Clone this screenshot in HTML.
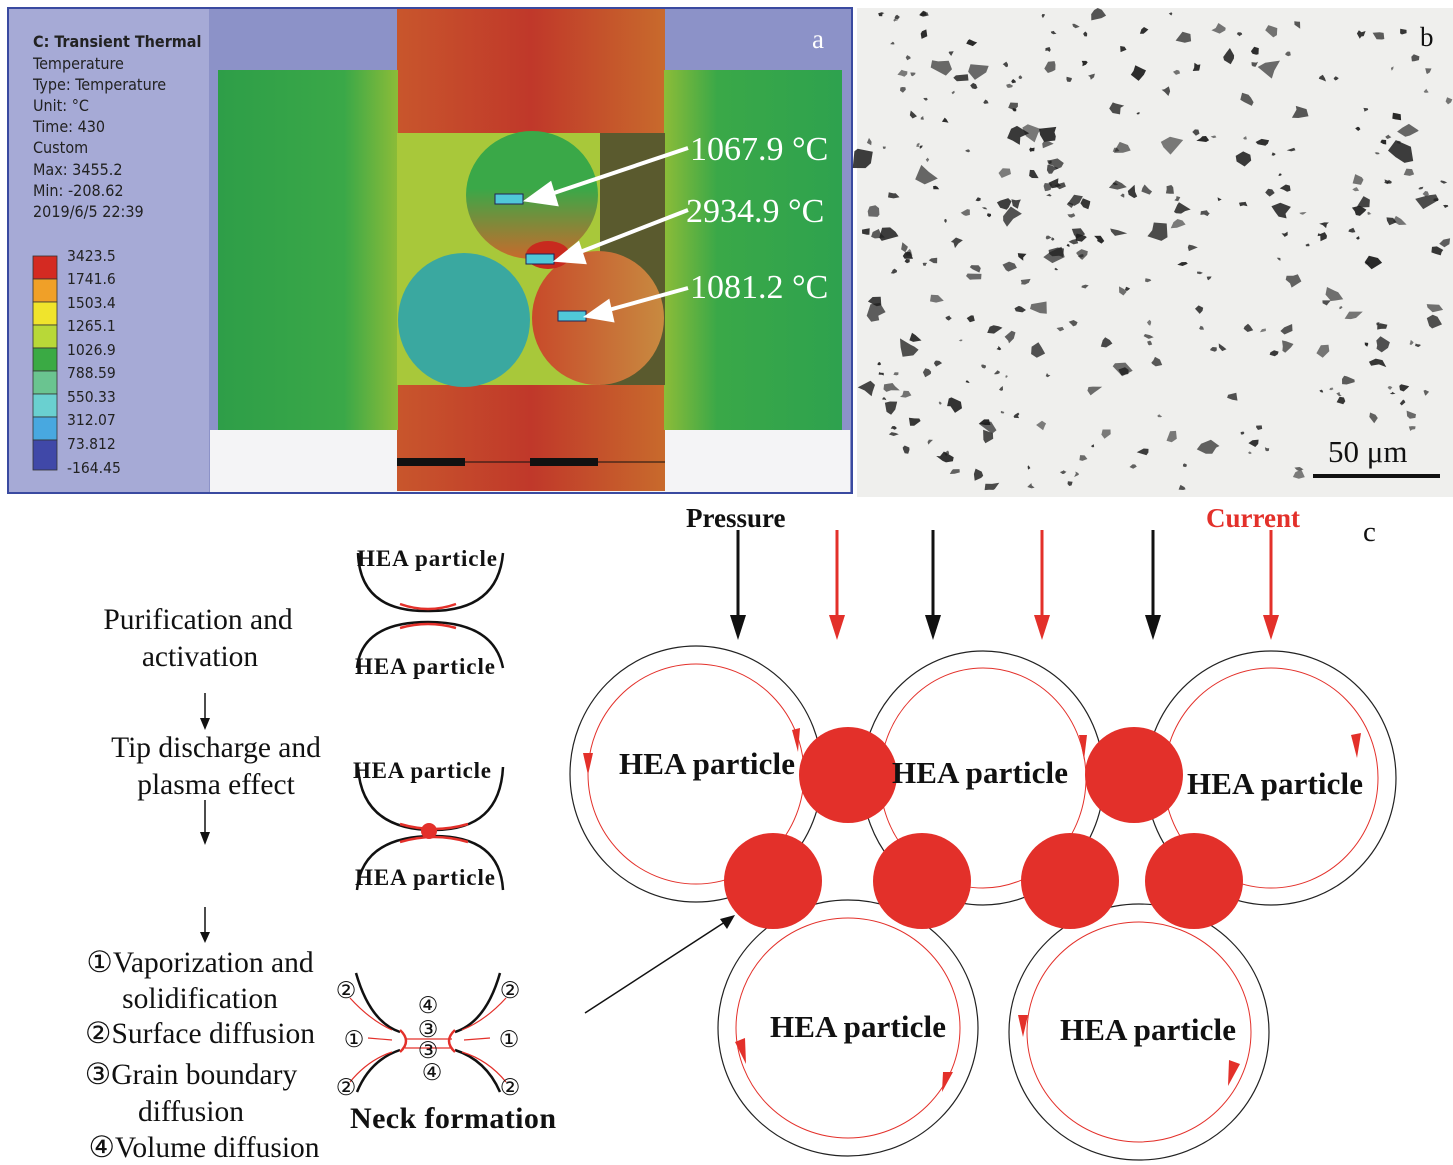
<!DOCTYPE html>
<html><head><meta charset="utf-8"><style>
body{margin:0;width:1453px;height:1165px;background:#fff;overflow:hidden;position:relative;font-family:"Liberation Serif",serif}
svg{position:absolute;left:0;top:0}
</style></head><body>
<svg width="1453" height="1165" viewBox="0 0 1453 1165" xmlns="http://www.w3.org/2000/svg">
<defs>
<linearGradient id="band" x1="0" x2="1"><stop offset="0" stop-color="#c8562c"/><stop offset="0.5" stop-color="#c0382a"/><stop offset="1" stop-color="#c86a2c"/></linearGradient>
<linearGradient id="gl" x1="0" x2="1"><stop offset="0" stop-color="#2e9e48"/><stop offset="0.7" stop-color="#3aa848"/><stop offset="1" stop-color="#8cbc38"/></linearGradient>
<linearGradient id="gr" x1="0" x2="1"><stop offset="0" stop-color="#8cbc38"/><stop offset="0.3" stop-color="#3aa848"/><stop offset="1" stop-color="#2ea24e"/></linearGradient>
<linearGradient id="c1" x1="0" x2="0" y1="0" y2="1"><stop offset="0.45" stop-color="#3aa848"/><stop offset="1" stop-color="#c86a2c"/></linearGradient>
<linearGradient id="c3" x1="0" x2="1"><stop offset="0" stop-color="#c84a2a"/><stop offset="1" stop-color="#c88a40"/></linearGradient>
</defs>
<!-- Panel a -->
<rect x="8" y="8" width="844" height="485" fill="#8c92c8" stroke="#3a4aa0" stroke-width="2"/>
<rect x="9" y="9" width="200" height="483" fill="#a6aad6"/>
<rect x="210" y="430" width="640" height="62" fill="#f4f4f6"/>
<rect x="397" y="9" width="268" height="482" fill="url(#band)"/>
<rect x="218" y="70" width="180" height="360" fill="url(#gl)"/>
<rect x="664" y="70" width="178" height="360" fill="url(#gr)"/>
<rect x="397" y="133" width="268" height="252" fill="#a8c83a"/>
<rect x="600" y="133" width="65" height="252" fill="#5a5a2e"/>
<ellipse cx="532" cy="195" rx="66" ry="64" fill="url(#c1)"/>
<ellipse cx="464" cy="320" rx="66" ry="67" fill="#3aa8a0"/>
<ellipse cx="598" cy="318" rx="66" ry="67" fill="url(#c3)"/>
<ellipse cx="548" cy="255" rx="22" ry="14" fill="#c82a1e"/>
<rect x="495" y="194" width="28" height="10" fill="#50c8d8" stroke="#225" stroke-width="1"/>
<rect x="526" y="254" width="28" height="10" fill="#50c8d8" stroke="#225" stroke-width="1"/>
<rect x="558" y="311" width="28" height="10" fill="#50c8d8" stroke="#225" stroke-width="1"/>
<g stroke="#fff" stroke-width="4" fill="#fff">
<line x1="688" y1="148" x2="545" y2="196"/><polygon points="528,200 550,184 556,204"/>
<line x1="688" y1="210" x2="575" y2="254"/><polygon points="558,260 578,244 584,262"/>
<line x1="688" y1="288" x2="605" y2="311"/><polygon points="588,316 608,302 612,320"/>
</g>
<g font-family="Liberation Serif,serif" fill="#fff" font-size="34">
<text x="690" y="160">1067.9 °C</text><text x="686" y="222">2934.9 °C</text><text x="690" y="298">1081.2 °C</text>
<text x="812" y="48" font-size="27">a</text></g>
<rect x="397" y="458" width="68" height="8" fill="#111"/><rect x="530" y="458" width="68" height="8" fill="#111"/>
<line x1="397" y1="462" x2="665" y2="462" stroke="#111" stroke-width="1"/>
<g font-family="DejaVu Sans Condensed,DejaVu Sans,sans-serif" font-size="16" fill="#222">
<text x="33" y="47" font-weight="bold">C: Transient Thermal</text>
<text x="33" y="69">Temperature</text><text x="33" y="90">Type: Temperature</text><text x="33" y="111">Unit: °C</text>
<text x="33" y="132">Time: 430</text><text x="33" y="153">Custom</text><text x="33" y="175">Max: 3455.2</text>
<text x="33" y="196">Min: -208.62</text><text x="33" y="217">2019/6/5 22:39</text>
<g font-size="15.5"><text x="67" y="261">3423.5</text><text x="67" y="284">1741.6</text><text x="67" y="308">1503.4</text><text x="67" y="331">1265.1</text><text x="67" y="355">1026.9</text><text x="67" y="378">788.59</text><text x="67" y="402">550.33</text><text x="67" y="425">312.07</text><text x="67" y="449">73.812</text><text x="67" y="473">-164.45</text></g>
</g>
<g stroke="#333" stroke-width="0.8">
<rect x="33" y="256" width="24" height="23" fill="#d42a22"/><rect x="33" y="279" width="24" height="23" fill="#f0a028"/><rect x="33" y="302" width="24" height="23" fill="#f0e42c"/><rect x="33" y="325" width="24" height="23" fill="#b8d838"/><rect x="33" y="348" width="24" height="23" fill="#3aaa44"/><rect x="33" y="371" width="24" height="23" fill="#6ac490"/><rect x="33" y="394" width="24" height="23" fill="#6ad0d0"/><rect x="33" y="417" width="24" height="23" fill="#48a8e0"/><rect x="33" y="440" width="24" height="30" fill="#4048a8"/>
</g>
<!-- Panel b -->
<rect x="857" y="8" width="596" height="489" fill="#efefed"/>
<g id="spk" fill="#1e1e1e"></g>
<text x="1420" y="46" font-size="27" fill="#111">b</text>
<text x="1328" y="462" font-size="31" fill="#111">50 μm</text>
<line x1="1313" y1="476" x2="1440" y2="476" stroke="#111" stroke-width="4"/>
<!-- Panel c -->
<g font-family="Liberation Serif,serif" font-weight="bold" font-size="27">
<text x="686" y="527" fill="#111">Pressure</text>
<text x="1206" y="527" fill="#e3302a">Current</text></g>
<text x="1363" y="541" font-size="29" fill="#111">c</text>
<g stroke-width="3">
<line x1="738" y1="530" x2="738" y2="618" stroke="#111"/><polygon points="730,615 746,615 738,640" fill="#111"/>
<line x1="837" y1="530" x2="837" y2="618" stroke="#e3302a"/><polygon points="829,615 845,615 837,640" fill="#e3302a"/>
<line x1="933" y1="530" x2="933" y2="618" stroke="#111"/><polygon points="925,615 941,615 933,640" fill="#111"/>
<line x1="1042" y1="530" x2="1042" y2="618" stroke="#e3302a"/><polygon points="1034,615 1050,615 1042,640" fill="#e3302a"/>
<line x1="1153" y1="530" x2="1153" y2="618" stroke="#111"/><polygon points="1145,615 1161,615 1153,640" fill="#111"/>
<line x1="1271" y1="530" x2="1271" y2="618" stroke="#e3302a"/><polygon points="1263,615 1279,615 1271,640" fill="#e3302a"/>
</g>
<g fill="none" stroke="#222" stroke-width="1.2">
<ellipse cx="696" cy="774" rx="126" ry="128"/><ellipse cx="983" cy="778" rx="121" ry="127"/><ellipse cx="1271" cy="778" rx="125" ry="127"/>
<ellipse cx="848" cy="1028" rx="130" ry="128"/><ellipse cx="1139" cy="1032" rx="130" ry="128"/>
</g>
<g fill="none" stroke="#e3302a" stroke-width="1">
<ellipse cx="696" cy="774" rx="108" ry="110"/><ellipse cx="983" cy="778" rx="103" ry="110"/><ellipse cx="1271" cy="778" rx="107" ry="110"/>
<ellipse cx="848" cy="1028" rx="112" ry="110"/><ellipse cx="1139" cy="1032" rx="112" ry="110"/>
</g>
<g fill="#e3302a">
<polygon points="792,730 800,728 798,752"/><polygon points="583,753 593,753 588,775"/>
<polygon points="1079,735 1087,735 1084,760"/><polygon points="1351,735 1361,733 1357,758"/>
<polygon points="735,1042 745,1038 746,1064"/><polygon points="943,1072 953,1072 942,1092"/>
<polygon points="1018,1015 1028,1015 1023,1037"/><polygon points="1229,1060 1240,1064 1228,1086"/>
<ellipse cx="848" cy="775" rx="49" ry="48"/><ellipse cx="1134" cy="775" rx="49" ry="48"/>
<ellipse cx="773" cy="881" rx="49" ry="48"/><ellipse cx="922" cy="881" rx="49" ry="48"/><ellipse cx="1070" cy="881" rx="49" ry="48"/><ellipse cx="1194" cy="881" rx="49" ry="48"/>
</g>
<line x1="585" y1="1013" x2="728" y2="920" stroke="#111" stroke-width="1.5"/><polygon points="735,915 720,919 727,929" fill="#111"/>
<g font-family="Liberation Serif,serif" font-weight="bold" font-size="31" fill="#111">
<text x="619" y="774" textLength="176">HEA particle</text><text x="892" y="783" textLength="176">HEA particle</text><text x="1187" y="794" textLength="176">HEA particle</text>
<text x="770" y="1037" textLength="176">HEA particle</text><text x="1060" y="1040" textLength="176">HEA particle</text>
</g>
<!-- Left column -->
<g font-size="29.5" fill="#111" text-anchor="middle">
<text x="198" y="629">Purification and</text><text x="200" y="666">activation</text>
<text x="216" y="757">Tip discharge and</text><text x="216" y="794">plasma effect</text>
<text x="200" y="972">①Vaporization and</text><text x="200" y="1008">solidification</text>
<text x="200" y="1043">②Surface diffusion</text><text x="191" y="1084">③Grain boundary</text>
<text x="191" y="1121">diffusion</text><text x="204" y="1157">④Volume diffusion</text>
</g>
<g stroke="#111" stroke-width="1.5">
<line x1="205" y1="693" x2="205" y2="722"/><line x1="205" y1="800" x2="205" y2="835"/><line x1="205" y1="907" x2="205" y2="935"/></g>
<g fill="#111"><polygon points="200,718 210,718 205,730"/><polygon points="200,832 210,832 205,845"/><polygon points="200,932 210,932 205,943"/></g>
<g fill="none" stroke-width="2.5">
<path d="M358,553 Q360,612 428,611 Q498,612 503,553" stroke="#111"/>
<path d="M400,604 Q428,614 456,604" stroke="#e3302a"/>
<path d="M357,668 Q362,622 428,622 Q494,622 503,668" stroke="#111"/>
<path d="M400,628 Q428,620 456,628" stroke="#e3302a"/>
<path d="M358,767 Q362,830 434,830 Q500,830 503,767" stroke="#111"/>
<path d="M400,824 Q434,834 468,824" stroke="#e3302a"/>
<path d="M357,890 Q362,836 434,836 Q500,836 503,890" stroke="#111"/>
<path d="M400,842 Q434,832 468,842" stroke="#e3302a"/>
<path d="M356,973 Q370,1022 400,1032" stroke="#111"/><path d="M357,1092 Q370,1060 400,1050" stroke="#111"/>
<path d="M500,973 Q486,1022 455,1032" stroke="#111"/><path d="M500,1092 Q486,1060 455,1050" stroke="#111"/>
<path d="M400,1030 Q412,1041 400,1052 M455,1030 Q443,1041 455,1052" stroke="#e3302a"/>
</g>
<circle cx="429" cy="831" r="8" fill="#e3302a"/>
<g stroke="#e3302a" stroke-width="1.2"><line x1="405" y1="1039" x2="452" y2="1039"/><line x1="405" y1="1048" x2="452" y2="1048"/>
<path d="M350,998 Q370,1020 392,1030 M350,1082 Q368,1060 392,1052 M506,998 Q486,1020 462,1030 M506,1082 Q488,1060 462,1052 M368,1038 L392,1040 M490,1038 L464,1040" fill="none"/></g>
<g font-family="Liberation Serif,serif" font-size="23" fill="#111" text-anchor="middle">
<text x="346" y="998">②</text><text x="510" y="998">②</text><text x="354" y="1047">①</text><text x="509" y="1047">①</text>
<text x="346" y="1095">②</text><text x="510" y="1095">②</text><text x="428" y="1013">④</text><text x="428" y="1037">③</text><text x="428" y="1058">③</text><text x="432" y="1080">④</text></g>
<text x="350" y="1128" font-weight="bold" font-size="30" fill="#111" textLength="206">Neck formation</text>
<g font-family="Liberation Serif,serif" font-weight="bold" font-size="23" fill="#111">
<text x="357" y="566" textLength="140">HEA particle</text><text x="355" y="674" textLength="140">HEA particle</text>
<text x="353" y="778" textLength="138">HEA particle</text><text x="355" y="885" textLength="140">HEA particle</text></g>
</svg>
<script>
(function(){var g=document.getElementById('spk');var s=12345;function r(){s=(s*1103515245+12345)%2147483648;return s/2147483648;}
var h='';for(var i=0;i<340;i++){var x=860+r()*590,y=12+r()*480;if(x>1300&&y>430)continue;var n=5+Math.floor(r()*3),sz=2+r()*r()*11;var p=[];for(var k=0;k<n;k++){var a=k/n*6.283+r()*0.8,d=sz*(0.4+r());p.push((x+Math.cos(a)*d).toFixed(1)+','+(y+Math.sin(a)*d*0.8).toFixed(1));}
h+='<polygon points="'+p.join(' ')+'" opacity="'+(0.55+r()*0.4).toFixed(2)+'"/>';}
g.innerHTML=h;})();
</script>
</body></html>
